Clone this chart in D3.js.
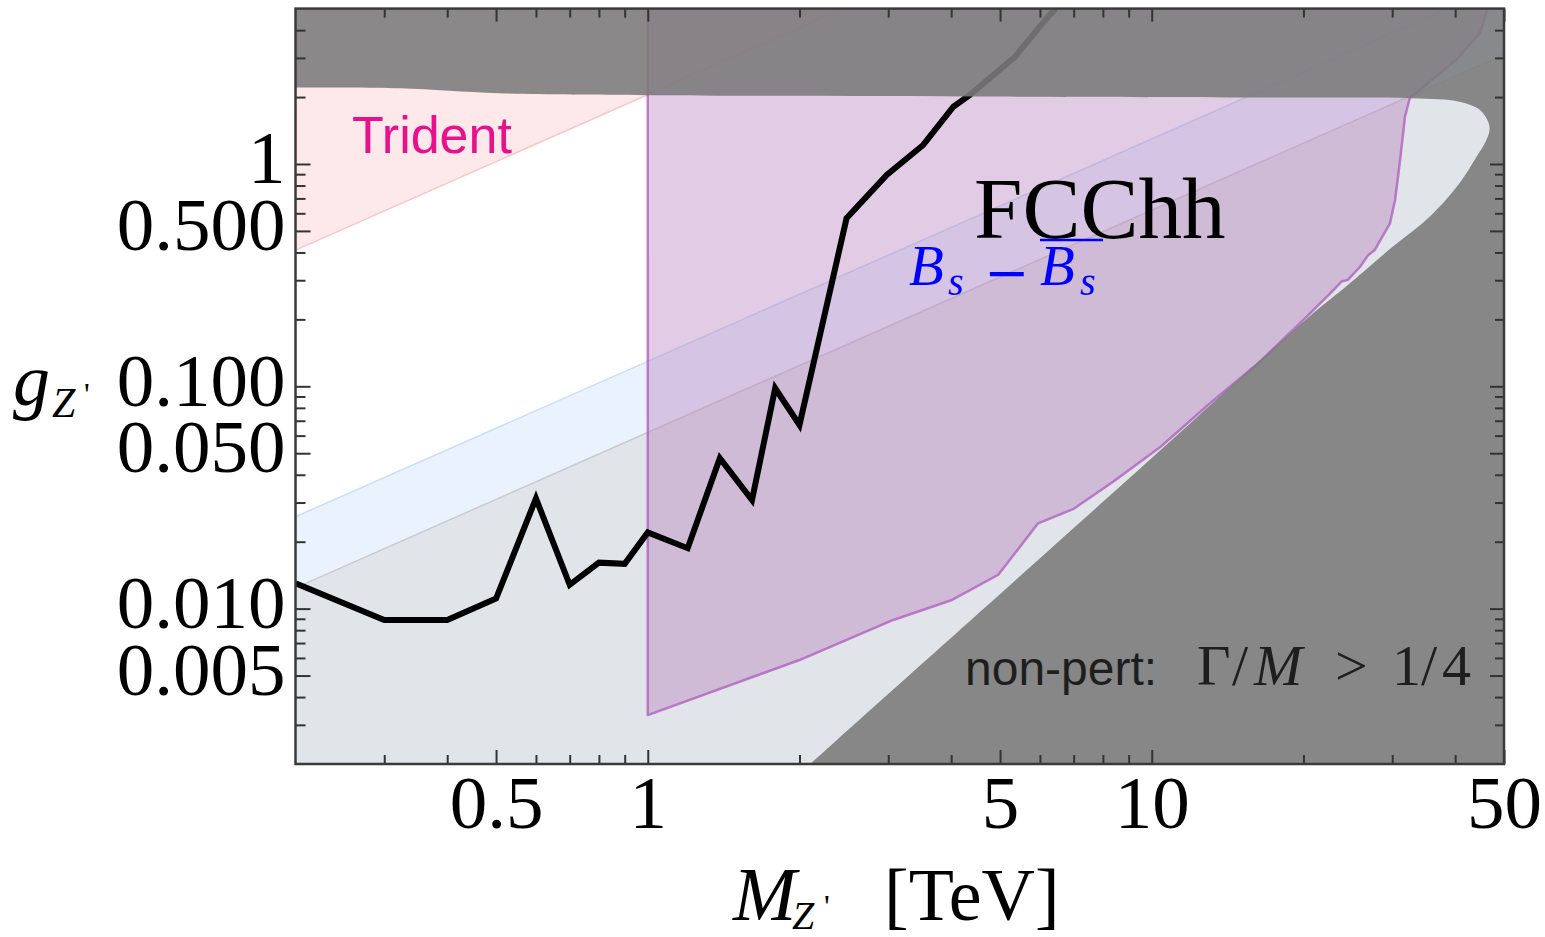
<!DOCTYPE html>
<html>
<head>
<meta charset="utf-8">
<script src="https://cdn.jsdelivr.net/npm/d3@7"></script>
<style>
  body { margin: 0; background: #fff; }
  svg { display: block; }
</style>
</head>
<body>
<svg id="chart" width="1545" height="937"></svg>
<script>
// ---- axis ranges and ticks ----
const massDomain = [0.2, 50];        // M_Z' [TeV]
const couplingDomain = [0.002, 5];   // g_Z'
const xMajorTicks = [0.5, 1, 5, 10, 50];
const xMajorLabels = ["0.5", "1", "5", "10", "50"];
const xMinorTicks = [0.3, 0.4, 0.6, 0.7, 0.8, 0.9, 2, 3, 4, 6, 7, 8, 9, 20, 30, 40];
const yMajorTicks = [0.005, 0.01, 0.05, 0.1, 0.5, 1];
const yMajorLabels = ["0.005", "0.010", "0.050", "0.100", "0.500", "1"];
const yMinorTicks = [0.003, 0.004, 0.006, 0.007, 0.008, 0.009,
                     0.02, 0.03, 0.04, 0.06, 0.07, 0.08, 0.09,
                     0.2, 0.3, 0.4, 0.6, 0.7, 0.8, 0.9, 2, 3, 4];

// ---- black exclusion curve ----
const limitMass =     [0.2, 0.30, 0.40, 0.50, 0.60, 0.70, 0.80, 0.90, 1.00, 1.20, 1.39, 1.61, 1.79, 2.00, 2.48, 2.98, 3.52, 4.04, 4.35, 5.35, 6.22, 6.45];
const limitCoupling = [0.0130, 0.00889, 0.00889, 0.0111, 0.0313, 0.0128, 0.0161, 0.0159, 0.0220, 0.0187, 0.0475, 0.0308, 0.0980, 0.0670, 0.570, 0.892, 1.218, 1.81, 2.04, 3.03, 4.58, 5.0];

// ---- FCC-hh reach region (outline, from M = 1 bottom) ----
const fccMass =     [1.0, 2.0, 3.07, 4.0, 4.96, 5.95, 6.98, 8.38, 10.4, 13.0, 16.4, 20.3, 22.6, 23.8, 24.5, 25.9, 26.9, 27.7, 28.3, 29.7, 30.4, 31.1, 31.8, 32.5, 40.2, 44.8, 46.4, 1.0];
const fccCoupling = [0.00332, 0.00587, 0.00889, 0.0109, 0.0142, 0.0242, 0.0280, 0.0372, 0.0533, 0.0832, 0.129, 0.206, 0.262, 0.296, 0.301, 0.345, 0.390, 0.410, 0.447, 0.541, 0.689, 1.04, 1.63, 1.975, 2.94, 3.89, 5.0, 5.0];

// ---- perturbativity boundary (Gamma/M = 1/4) ----
const pertMass =     [0.2, 0.322, 0.509, 1.0, 4.99, 19.7, 32.9, 40.8, 44.8, 46.5, 46.8, 45.8, 44.1, 40.8, 35.6, 30.1, 24.3, 20.9, 8.64, 2.37, 2.10];
const pertCoupling = [2.21, 2.19, 2.08, 2.04, 2.01, 1.99, 1.975, 1.906, 1.75, 1.55, 1.42, 1.24, 1.078, 0.819, 0.579, 0.425, 0.281, 0.213, 0.0353, 0.00256, 0.002];

// ---- Trident bound: excluded above the line ----
const tridentMass = [0.2, 2.44];
const tridentCoupling = [0.41, 5.0];

// ---- B_s mixing band edges ----
const bsUpperMass = [0.2, 50];
const bsUpperCoupling = [0.0259, 6.48];
const bsLowerMass = [0.2, 50];
const bsLowerCoupling = [0.0124, 3.10];

// ---- layout ----
const plot = { left: 295.5, right: 1504, top: 8.6, bottom: 764 };

const svg = d3.select("#chart");
const x = d3.scaleLog().domain(massDomain).range([plot.left, plot.right]);
const y = d3.scaleLog().domain(couplingDomain).range([plot.bottom, plot.top]);

const zip = (a, b) => a.map((v, i) => [v, b[i]]);
const line = d3.line().x(d => x(d[0])).y(d => y(d[1]));

svg.append("defs").append("clipPath").attr("id", "plotClip")
  .append("rect")
  .attr("x", plot.left).attr("y", plot.top)
  .attr("width", plot.right - plot.left).attr("height", plot.bottom - plot.top);

const g = svg.append("g").attr("clip-path", "url(#plotClip)");

// plot background
g.append("rect")
  .attr("x", plot.left).attr("y", plot.top)
  .attr("width", plot.right - plot.left).attr("height", plot.bottom - plot.top)
  .attr("fill", "#ffffff");

// light gray region below the lower B_s edge
const lowPts = zip(bsLowerMass, bsLowerCoupling);
g.append("path")
  .attr("d", line(lowPts) + `L${x(massDomain[1])},${y(couplingDomain[0])}L${x(massDomain[0])},${y(couplingDomain[0])}Z`)
  .attr("fill", "#e1e4e9");

// B_s band
const upPts = zip(bsUpperMass, bsUpperCoupling);
g.append("path")
  .attr("d", line(upPts.concat(lowPts.slice().reverse())) + "Z")
  .attr("fill", "#eaf3fd");
g.append("path").attr("d", line(upPts)).attr("fill", "none")
  .attr("stroke", "#c8dff8").attr("stroke-width", 1.5);
g.append("path").attr("d", line(lowPts)).attr("fill", "none")
  .attr("stroke", "#cacbcf").attr("stroke-width", 1.5);

// Trident region
const triPts = zip(tridentMass, tridentCoupling);
g.append("path")
  .attr("d", line(triPts) + `L${x(massDomain[0])},${y(couplingDomain[1])}Z`)
  .attr("fill", "#fde8ea");
g.append("path").attr("d", line(triPts)).attr("fill", "none")
  .attr("stroke", "#f7c6cb").attr("stroke-width", 1.5);

// FCC-hh region
g.append("path")
  .attr("d", line(zip(fccMass, fccCoupling)) + "Z")
  .attr("fill", "rgb(183,125,188)").attr("fill-opacity", 0.4)
  .attr("stroke", "#b060c0").attr("stroke-opacity", 0.8)
  .attr("stroke-width", 2.5).attr("stroke-linejoin", "round");

// black limit curve
g.append("path")
  .attr("d", line(zip(limitMass, limitCoupling)))
  .attr("fill", "none").attr("stroke", "#000")
  .attr("stroke-width", 6).attr("stroke-linejoin", "miter").attr("stroke-miterlimit", 6);

// non-perturbative region: plot area minus the perturbative region
const pertLine = d3.line().x(d => x(d[0])).y(d => y(d[1])).curve(d3.curveCatmullRom.alpha(0.5));
const pertPath = pertLine(zip(pertMass, pertCoupling)) +
  `L${x(massDomain[0]) - 20},${y(couplingDomain[0]) + 20}L${x(massDomain[0]) - 20},${y(pertCoupling[0])}Z`;
const rectPath = `M${plot.left - 30},${plot.top - 30}H${plot.right + 30}V${plot.bottom + 30}H${plot.left - 30}Z`;
g.append("path")
  .attr("d", rectPath + pertPath)
  .attr("fill-rule", "evenodd")
  .attr("fill", "#7c7c7c").attr("fill-opacity", 0.89);

// ---- axes ----
const tickStyle = sel => {
  sel.select(".domain").remove();
  sel.selectAll(".tick line").attr("stroke", "#333").attr("stroke-width", 2);
  sel.selectAll(".tick text")
    .attr("font-family", "'Liberation Serif', 'Times New Roman', serif")
    .attr("font-size", 75).attr("fill", "#000");
};

const xLabelMap = new Map(xMajorTicks.map((v, i) => [v, xMajorLabels[i]]));
const yLabelMap = new Map(yMajorTicks.map((v, i) => [v, yMajorLabels[i]]));

svg.append("g").attr("transform", `translate(0,${plot.bottom})`)
  .call(d3.axisBottom(x).tickValues(xMajorTicks).tickFormat(d => xLabelMap.get(d))
    .tickSizeInner(-14).tickSizeOuter(0).tickPadding(11))
  .call(tickStyle);
svg.append("g").attr("transform", `translate(0,${plot.bottom})`)
  .call(d3.axisBottom(x).tickValues(xMinorTicks).tickFormat("").tickSizeInner(-9).tickSizeOuter(0))
  .call(tickStyle);
svg.append("g").attr("transform", `translate(0,${plot.top})`)
  .call(d3.axisTop(x).tickValues(xMajorTicks).tickFormat("").tickSizeInner(-13).tickSizeOuter(0))
  .call(tickStyle);
svg.append("g").attr("transform", `translate(0,${plot.top})`)
  .call(d3.axisTop(x).tickValues(xMinorTicks).tickFormat("").tickSizeInner(-9).tickSizeOuter(0))
  .call(tickStyle);

const yLeft = svg.append("g").attr("transform", `translate(${plot.left},0)`)
  .call(d3.axisLeft(y).tickValues(yMajorTicks).tickFormat(d => yLabelMap.get(d))
    .tickSizeInner(-15).tickSizeOuter(0).tickPadding(10))
  .call(tickStyle);
yLeft.selectAll(".tick text").attr("dy", "0.25em");
svg.append("g").attr("transform", `translate(${plot.left},0)`)
  .call(d3.axisLeft(y).tickValues(yMinorTicks).tickFormat("").tickSizeInner(-10).tickSizeOuter(0))
  .call(tickStyle);
svg.append("g").attr("transform", `translate(${plot.right},0)`)
  .call(d3.axisRight(y).tickValues(yMajorTicks).tickFormat("").tickSizeInner(-14).tickSizeOuter(0))
  .call(tickStyle);
svg.append("g").attr("transform", `translate(${plot.right},0)`)
  .call(d3.axisRight(y).tickValues(yMinorTicks).tickFormat("").tickSizeInner(-9).tickSizeOuter(0))
  .call(tickStyle);

// frame
svg.append("rect")
  .attr("x", plot.left).attr("y", plot.top)
  .attr("width", plot.right - plot.left).attr("height", plot.bottom - plot.top)
  .attr("fill", "none").attr("stroke", "#3a3a3a").attr("stroke-width", 2.5);

// ---- annotations ----
const serif = "'Liberation Serif', 'Times New Roman', serif";
const sans = "'Liberation Sans', Arial, sans-serif";

svg.append("text").attr("x", 352).attr("y", 153)
  .attr("font-family", sans).attr("font-size", 52).attr("fill", "#e8118c")
  .text("Trident");

svg.append("text").attr("x", 974).attr("y", 238)
  .attr("font-family", serif).attr("font-size", 87).attr("fill", "#000")
  .text("FCChh");

// B_s - anti-B_s label
const bs = svg.append("text").attr("y", 285)
  .attr("font-family", serif).attr("font-size", 57).attr("fill", "#0000ff");
bs.append("tspan").attr("x", 909).attr("font-style", "italic").text("B");
bs.append("tspan").attr("x", 948).attr("font-style", "italic").attr("font-size", 40).attr("dy", 10).text("s");
bs.append("tspan").attr("x", 984).attr("dy", -4).attr("font-family", "'DejaVu Serif', serif").attr("font-size", 54).text("\u2212");
bs.append("tspan").attr("x", 1040).attr("dy", -6).attr("font-style", "italic").text("B");
bs.append("tspan").attr("x", 1080).attr("font-style", "italic").attr("font-size", 40).attr("dy", 10).text("s");
svg.append("line")
  .attr("x1", 1040).attr("x2", 1103)
  .attr("y1", 240).attr("y2", 240)
  .attr("stroke", "#0000ff").attr("stroke-width", 2.5);

// perturbativity label
const np = svg.append("text").attr("y", 685)
  .attr("font-family", sans).attr("font-size", 48).attr("fill", "#1e1e1e");
np.append("tspan").attr("x", 965).text("non-pert:");
np.append("tspan").attr("x", 1197).attr("font-family", serif).attr("font-size", 58).text("\u0393");
np.append("tspan").attr("x", 1232).attr("font-family", serif).attr("font-size", 58).text("/");
np.append("tspan").attr("x", 1254).attr("font-family", serif).attr("font-size", 58).attr("font-style", "italic").text("M");
np.append("tspan").attr("x", 1335).attr("font-family", serif).attr("font-size", 58).text(">");
np.append("tspan").attr("x", 1392).attr("font-family", serif).attr("font-size", 58).text("1");
np.append("tspan").attr("x", 1421).attr("font-family", serif).attr("font-size", 58).text("/");
np.append("tspan").attr("x", 1442).attr("font-family", serif).attr("font-size", 58).text("4");

// axis titles
const gt = svg.append("text").attr("y", 405)
  .attr("font-family", serif).attr("fill", "#000");
gt.append("tspan").attr("x", 13).attr("font-size", 74).attr("font-style", "italic").text("g");
gt.append("tspan").attr("x", 52).attr("font-size", 42).attr("font-style", "italic").attr("dy", 12).text("Z");
gt.append("tspan").attr("x", 84).attr("font-size", 32).attr("dy", -12).text("'");

const mt = svg.append("text").attr("y", 920)
  .attr("font-family", serif).attr("fill", "#000");
mt.append("tspan").attr("x", 733).attr("font-size", 76).attr("font-style", "italic").text("M");
mt.append("tspan").attr("x", 792).attr("font-size", 40).attr("font-style", "italic").attr("dy", 9).text("Z");
mt.append("tspan").attr("x", 824).attr("font-size", 32).attr("dy", -12).text("'");
mt.append("tspan").attr("x", 884).attr("font-size", 74).attr("dy", 3).text("[TeV]");
</script>
</body>
</html>
